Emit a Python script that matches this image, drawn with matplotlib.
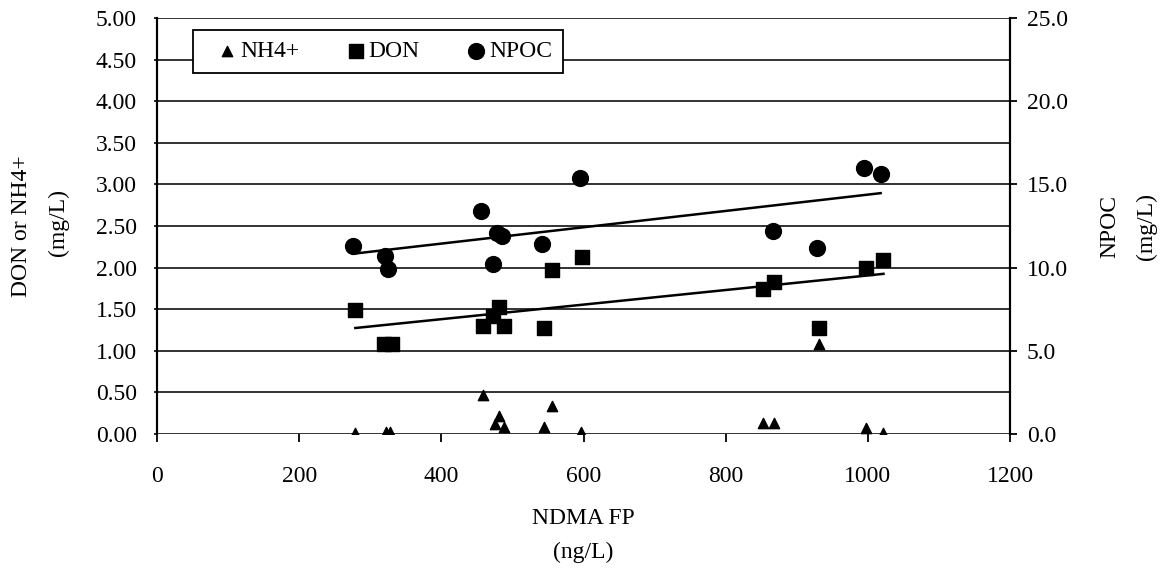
import numpy as np
import matplotlib
matplotlib.use('Agg')
import matplotlib.pyplot as plt
from matplotlib.ticker import FormatStrFormatter, MultipleLocator

plt.rcParams['font.family'] = ['Liberation Serif', 'DejaVu Serif']
plt.rcParams['font.size'] = 17

# NH4+ (mg/L)
nh4_x = [279, 322, 328, 459, 475, 481, 488, 544, 556, 597, 852, 868, 931, 997, 1022]
nh4_y = [0.01, 0.02, 0.02, 0.47, 0.12, 0.22, 0.09, 0.09, 0.34, 0.03, 0.13, 0.13, 1.08, 0.07, 0.01]

# DON (mg/L)
don_x = [279, 320, 330, 458, 472, 481, 488, 544, 555, 598, 852, 868, 931, 997, 1022]
don_y = [1.49, 1.08, 1.08, 1.30, 1.42, 1.53, 1.30, 1.27, 1.97, 2.13, 1.74, 1.83, 1.27, 2.00, 2.09]

# NPOC (mg/L)
npoc_x = [276, 321, 325, 456, 472, 478, 485, 542, 595, 866, 929, 995, 1018]
npoc_y = [11.3, 10.7, 9.9, 13.4, 10.2, 12.1, 11.9, 11.4, 15.4, 12.2, 11.2, 16.0, 15.6]

W, H = 1161, 568
fig = plt.figure(figsize=(W / 100, H / 100), dpi=100)
ax = fig.add_axes([157 / W, 1 - 434 / H, (1010 - 157) / W, (434 - 18) / H])
ax2 = ax.twinx()

ax.set_xlim(0, 1200)
ax.set_ylim(0, 5)
ax2.set_ylim(0, 25)
ax.xaxis.set_major_locator(MultipleLocator(200))
ax.yaxis.set_major_locator(MultipleLocator(0.5))
ax2.yaxis.set_major_locator(MultipleLocator(5))
ax.yaxis.set_major_formatter(FormatStrFormatter('%.2f'))
ax2.yaxis.set_major_formatter(FormatStrFormatter('%.1f'))

ax.grid(axis='y', color='#222222', linewidth=1.3)
ax.set_axisbelow(True)
for a in (ax, ax2):
    a.spines['top'].set_visible(False)
    a.spines['bottom'].set_visible(False)
    a.spines['left'].set_linewidth(1.5)
    a.spines['right'].set_linewidth(1.5)
ax.tick_params(axis='y', direction='out', length=2.5, width=1.2, pad=12, labelsize=17)
ax.tick_params(axis='x', direction='out', length=6, width=1.3, pad=17, labelsize=17)
ax2.tick_params(axis='y', direction='out', length=5, width=1.3, pad=7, labelsize=17)

h1 = ax.scatter(nh4_x, nh4_y, marker='^', s=55, color='black', zorder=3, label='NH4+')
h2 = ax.scatter(don_x, don_y, marker='s', s=115, color='black', zorder=3, label='DON')
h3 = ax2.scatter(npoc_x, npoc_y, marker='o', s=130, color='black', zorder=3, label='NPOC')

# linear trend lines
k, b = np.polyfit(don_x, don_y, 1)
xs = np.array([min(don_x), max(don_x)])
ax.plot(xs, k * xs + b, color='black', linewidth=1.8, zorder=2)
k2, b2 = np.polyfit(npoc_x, npoc_y, 1)
xs2 = np.array([min(npoc_x), max(npoc_x)])
ax2.plot(xs2, k2 * xs2 + b2, color='black', linewidth=1.8, zorder=2)

# axis titles
fig.text(22 / W, 1 - 226 / H, 'DON or NH4+', rotation=90, ha='center', va='center', fontsize=17)
fig.text(58 / W, 1 - 222 / H, '(mg/L)', rotation=90, ha='center', va='center', fontsize=17)
fig.text(1110 / W, 1 - 226 / H, 'NPOC', rotation=90, ha='center', va='center', fontsize=17)
fig.text(1146 / W, 1 - 226 / H, '(mg/L)', rotation=90, ha='center', va='center', fontsize=17)
fig.text(583 / W, 1 - 518 / H, 'NDMA FP', ha='center', va='center', fontsize=17)
fig.text(583 / W, 1 - 552 / H, '(ng/L)', ha='center', va='center', fontsize=17)

leg = ax2.legend(handles=[h1, h2, h3], loc='upper left',
                 bbox_to_anchor=(193 / W, 1 - 30 / H), bbox_transform=fig.transFigure,
                 borderaxespad=0, ncol=3, frameon=True, fancybox=False, edgecolor='black',
                 handletextpad=-0.44, handlelength=1.98, columnspacing=1.4, borderpad=0.45,
                 fontsize=17, markerscale=1.0)
leg.get_frame().set_linewidth(1.3)
leg.get_frame().set_alpha(1)

fig.savefig('out.png', dpi=100)
